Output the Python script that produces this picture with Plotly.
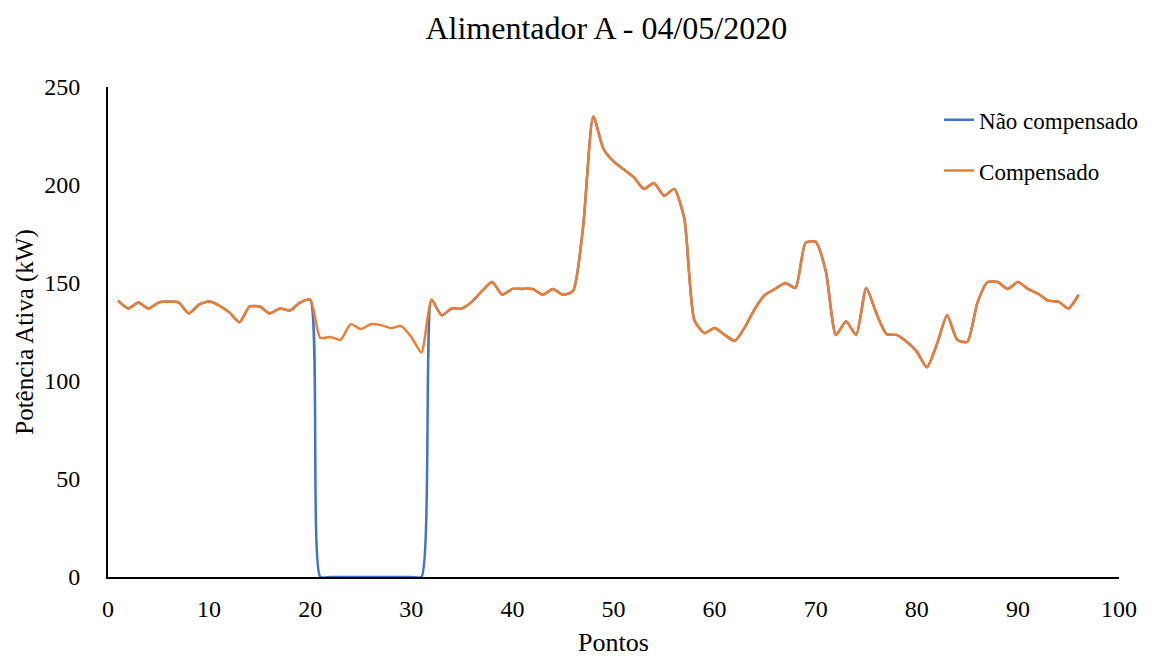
import plotly.graph_objects as go

pontos = list(range(1, 97))

compensado = [
    141, 137, 140, 137, 140, 140.5, 140, 134.5, 139, 140.5,
    138.5, 135, 130, 138, 138, 134.5, 137, 136, 140, 141.5,
    122, 122.5, 121, 129, 126.5, 129, 128.5, 127, 128, 122.5,
    114.5, 141.5, 133.5, 137, 137, 140.5, 146, 150.5, 144, 147,
    147, 147, 144, 147, 144, 146, 179, 235, 218.5, 212,
    208, 204, 198, 201, 194.5, 198, 183, 131, 124.5, 127,
    123.5, 120.5, 127.5, 137, 144, 147, 150, 147.5, 170.5, 171,
    156, 123.5, 130.5, 123.5, 147.5, 134.5, 124, 123.5, 120, 115,
    107, 119, 133.5, 121, 120, 140, 150.5, 150.5, 147, 150.5,
    147, 144.5, 141, 140.5, 137, 144,
]

nao_compensado = [
    141, 137, 140, 137, 140, 140.5, 140, 134.5, 139, 140.5,
    138.5, 135, 130, 138, 138, 134.5, 137, 136, 140, 141.5,
    0, 0, 0, 0, 0, 0, 0, 0, 0, 0,
    0, 141.5, 133.5, 137, 137, 140.5, 146, 150.5, 144, 147,
    147, 147, 144, 147, 144, 146, 179, 235, 218.5, 212,
    208, 204, 198, 201, 194.5, 198, 183, 131, 124.5, 127,
    123.5, 120.5, 127.5, 137, 144, 147, 150, 147.5, 170.5, 171,
    156, 123.5, 130.5, 123.5, 147.5, 134.5, 124, 123.5, 120, 115,
    107, 119, 133.5, 121, 120, 140, 150.5, 150.5, 147, 150.5,
    147, 144.5, 141, 140.5, 137, 144,
]

x_ticks = [0, 10, 20, 30, 40, 50, 60, 70, 80, 90, 100]
y_ticks = [0, 50, 100, 150, 200, 250]

FONT = "Liberation Serif, Times New Roman, serif"

fig = go.Figure()
fig.add_trace(go.Scatter(
    x=pontos, y=nao_compensado, mode="lines", name="Não compensado",
    line=dict(color="#4472C4", width=2.5, shape="spline", smoothing=0.6),
    legendgroup="a",
))
fig.add_trace(go.Scatter(
    x=pontos, y=compensado, mode="lines", name="Compensado",
    line=dict(color="#ED7D31", width=2.5, shape="spline", smoothing=0.6),
    legendgroup="b",
))

fig.update_layout(
    width=1175, height=661,
    margin=dict(l=108, r=56, t=87, b=84),
    paper_bgcolor="white", plot_bgcolor="white",
    font=dict(family=FONT, size=24, color="black"),
    title=dict(text="Alimentador A - 04/05/2020", x=0.516, xanchor="center",
               y=0.958, yanchor="middle", font=dict(size=32, family=FONT, color="black")),
    legend=dict(x=0.822, y=0.977, xanchor="left", yanchor="top",
                font=dict(size=23, family=FONT, color="black"),
                traceorder="grouped", tracegroupgap=18,
                bgcolor="rgba(0,0,0,0)"),
    showlegend=True,
)
fig.update_xaxes(
    range=[0, 100], tickmode="array", tickvals=x_ticks, automargin=False,
    showgrid=False, zeroline=False, showline=True, linecolor="black", linewidth=2,
    ticks="", ticklabelstandoff=9,
    title=dict(text="Pontos", font=dict(size=26, family=FONT), standoff=12),
)
fig.update_yaxes(
    range=[0, 250], tickmode="array", tickvals=y_ticks, automargin=False,
    showgrid=False, zeroline=False, showline=True, linecolor="black", linewidth=2,
    ticks="", ticklabelstandoff=21,
    title=dict(text="Potência Ativa (kW)", font=dict(size=25, family=FONT), standoff=3),
)

fig.write_html("out.html")
